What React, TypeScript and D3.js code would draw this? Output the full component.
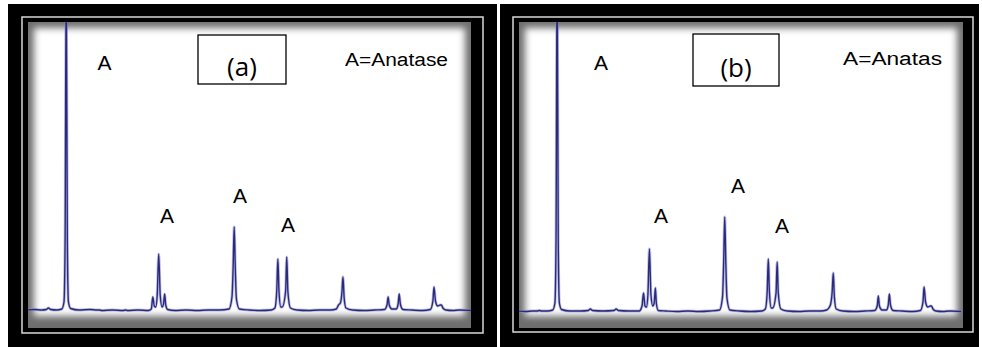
import React from "react";
import * as d3 from "d3";

// 2θ sampling (degrees) shared by both patterns
const twoTheta = [
  20, 21, 22, 22.6, 22.9, 23.2, 24, 24.7, 25.0, 25.15,
  25.3, 25.45, 25.6, 25.9, 27, 28.5, 29.5, 29.8, 30.1, 31.5,
  33, 33.3, 33.6, 35, 36.4, 36.8, 37.0, 37.2, 37.4, 37.6,
  37.8, 38.0, 38.25, 38.45, 38.6, 38.75, 39.0, 40, 41.5, 43,
  44.5, 46, 47.3, 47.7, 47.85, 48.0, 48.15, 48.3, 48.7, 50,
  51.5, 53, 53.5, 53.75, 53.9, 54.05, 54.3, 54.5, 54.95, 55.1,
  55.25, 55.6, 56.5, 58, 59.5, 61, 61.8, 62.1, 62.35, 62.55,
  62.7, 62.85, 63.1, 64, 65.5, 67, 68.3, 68.65, 68.8, 68.95,
  69.3, 69.9, 70.15, 70.3, 70.45, 70.8, 72, 73.5, 74.5, 74.85,
  75.0, 75.2, 75.5, 75.85, 76.0, 76.2, 76.6, 77.5, 78.5, 80,
];

// intensity (a.u.) pattern (a)
const intensityA = [
  1, 1.5, 1, 1.5, 3, 1.5, 1, 2, 9, 70,
  340, 70, 9, 2.5, 1, 1.5, 1, 1, 0.5, 1,
  0.5, 1, 0.5, 1, 0.5, 2, 14, 5, 4, 16,
  57, 16, 4, 7, 17, 6, 1.5, 0.5, 1, 0.5,
  1, 1, 2, 14, 42, 84, 42, 12, 2, 1,
  0.5, 1, 3, 20, 52, 20, 4, 4, 20, 54,
  20, 3, 1, 0.5, 1, 1, 2, 6, 8, 18,
  34, 14, 3, 1, 0.5, 1, 1.5, 6, 14, 6,
  2, 2, 7, 17, 7, 1.5, 1, 0.5, 1.5, 10,
  24, 10, 5, 6, 6, 3, 1, 0.5, 1, 0.5,
];

// intensity (a.u.) pattern (b)
const intensityB = [
  1, 0.5, 1, 1, 1.5, 1, 1, 2, 9, 70,
  350, 70, 9, 2.5, 1, 1, 1.5, 3, 1.5, 1,
  1.5, 3, 1.5, 1, 1, 6, 19, 6, 5, 18,
  63, 18, 6, 9, 24, 8, 1.5, 1, 0.5, 1,
  0.5, 1, 2, 15, 48, 95, 48, 14, 2, 1,
  0.5, 1, 3, 20, 53, 20, 4, 4, 19, 50,
  19, 3, 1, 0.5, 1, 1, 2, 4, 8, 20,
  39, 15, 3, 1, 0.5, 1, 1.5, 6, 16, 6,
  2, 2, 7, 18, 7, 1.5, 1, 0.5, 1.5, 10,
  25, 10, 5, 6, 6, 3, 1, 0.5, 1, 0.5,
];

const panelTags = ["(a)", "(b)"];
const legendTexts = ["A=Anatase", "A=Anatas"];
const peakLabel = "A";

type Panel = {
  id: string;
  outer: [number, number, number, number];
  frame: [number, number, number, number];
  inner: [number, number, number, number];
  xRange: [number, number];
  base: number;
  values: number[];
  tag: string;
  tagBox: [number, number, number, number];
  tagY: number;
  legend: string;
  legendX: number;
  legendY: number;
  legendLen: number;
  labels: [number, number][];
};

const panels: Panel[] = [
  {
    id: "a",
    outer: [8, 4, 497, 347],
    frame: [22, 17, 483, 333],
    inner: [28, 22, 471, 328],
    xRange: [27, 471],
    base: 311,
    values: intensityA,
    tag: panelTags[0],
    tagBox: [198, 35, 286, 84],
    tagY: 76,
    legend: legendTexts[0],
    legendX: 345,
    legendY: 66,
    legendLen: 103,
    labels: [[104.5, 70], [167, 223], [240, 203], [288, 232]],
  },
  {
    id: "b",
    outer: [500, 4, 979, 347],
    frame: [513, 17, 973, 332],
    inner: [519, 22, 963, 328],
    xRange: [518, 961],
    base: 312,
    values: intensityB,
    tag: panelTags[1],
    tagBox: [693, 34, 779, 86],
    tagY: 77,
    legend: legendTexts[1],
    legendX: 843,
    legendY: 65,
    legendLen: 99,
    labels: [[601, 69.5], [661, 223], [738, 193], [782, 233]],
  },
];

function PanelView({ p }: { p: Panel }) {
  const x = d3.scaleLinear().domain([20, 80]).range(p.xRange);
  const y = d3.scaleLinear().domain([0, 300]).range([p.base, p.base - 300]);
  const line = d3
    .line<number>()
    .x((_, i) => x(twoTheta[i]))
    .y((v) => y(v))
    .curve(d3.curveMonotoneX);
  const path = line(p.values) || "";
  const [ox0, oy0, ox1, oy1] = p.outer;
  const [fx0, fy0, fx1, fy1] = p.frame;
  const [ix0, iy0, ix1, iy1] = p.inner;
  return (
    <g>
      <defs>
        <clipPath id={`clip-${p.id}`}>
          <rect x={ix0} y={iy0} width={ix1 - ix0} height={iy1 - iy0} />
        </clipPath>
      </defs>
      <rect x={ox0} y={oy0} width={ox1 - ox0} height={oy1 - oy0} fill="#000" />
      <rect
        x={fx0}
        y={fy0}
        width={fx1 - fx0}
        height={fy1 - fy0}
        fill="none"
        stroke="#d8d8d8"
        strokeWidth={1.5}
      />
      <g clipPath={`url(#clip-${p.id})`}>
        <rect x={ix0} y={iy0} width={ix1 - ix0} height={iy1 - iy0} fill="#6e6e6e" />
        <rect
          x={ix0 + 6}
          y={iy0 + 6}
          width={ix1 - ix0 - 12}
          height={iy1 - iy0 - 18}
          fill="#fff"
          filter="url(#soft)"
        />
        <path d={path} fill="none" stroke="#8c8cd0" strokeOpacity={0.55} strokeWidth={3} />
        <path d={path} fill="none" stroke="#2a2a7c" strokeWidth={1.4} />
      </g>
      <rect
        x={p.tagBox[0]}
        y={p.tagBox[1]}
        width={p.tagBox[2] - p.tagBox[0]}
        height={p.tagBox[3] - p.tagBox[1]}
        fill="#fff"
        stroke="#000"
        strokeWidth={1.3}
      />
      <text
        x={(p.tagBox[0] + p.tagBox[2]) / 2}
        y={p.tagY}
        textAnchor="middle"
        fontFamily="'Open Sans', sans-serif"
        fontSize={26}
        fill="#000"
      >
        {p.tag}
      </text>
      <text
        x={p.legendX}
        y={p.legendY}
        fontFamily="'Liberation Sans', Arial, sans-serif"
        fontSize={18}
        textLength={p.legendLen}
        lengthAdjust="spacingAndGlyphs"
        fill="#000"
      >
        {p.legend}
      </text>
      {p.labels.map(([lx, ly], i) => (
        <text
          key={i}
          x={lx}
          y={ly}
          textAnchor="middle"
          fontFamily="'Liberation Sans', Arial, sans-serif"
          fontSize={21}
          fill="#000"
        >
          {peakLabel}
        </text>
      ))}
    </g>
  );
}

export default function App() {
  return (
    <div style={{ position: "absolute", left: 0, top: 0 }}>
      <svg width={982} height={347} style={{ display: "block" }}>
        <defs>
          <filter id="soft" x="-10%" y="-10%" width="120%" height="120%">
            <feGaussianBlur stdDeviation={3.5} />
          </filter>
        </defs>
        <rect x={0} y={0} width={982} height={347} fill="#fff" />
        {panels.map((p) => (
          <PanelView key={p.id} p={p} />
        ))}
      </svg>
    </div>
  );
}
